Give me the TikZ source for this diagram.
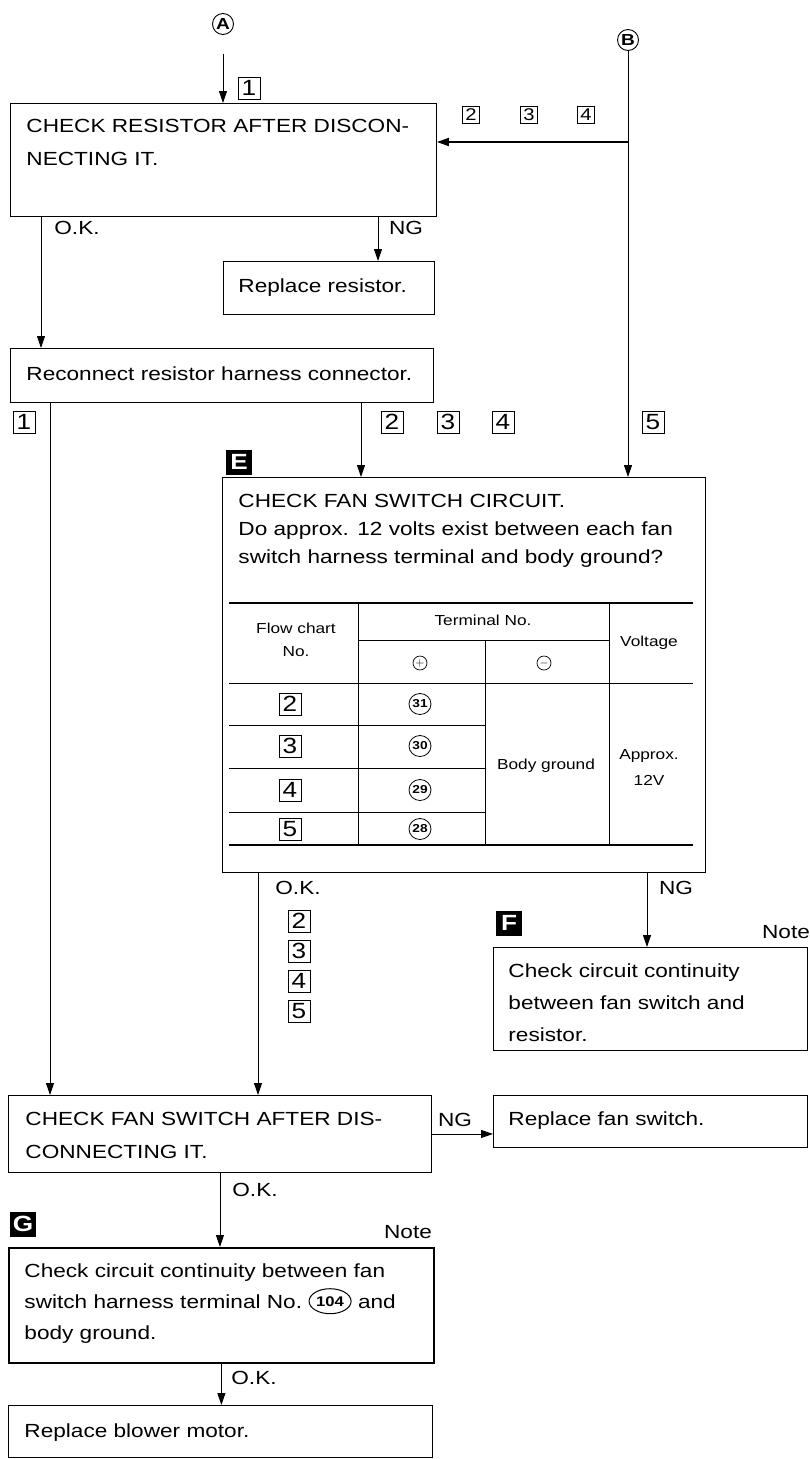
\documentclass[tikz,border=0pt]{standalone}
\usepackage{fontspec}
\setmainfont{Liberation Sans}[FakeStretch=1.19]
\usetikzlibrary{arrows.meta,shapes.geometric,positioning}

\begin{document}
\begin{tikzpicture}[x=1pt,y=-1pt,line width=0.9pt]
\useasboundingbox (0,0) rectangle (809,1459);

\tikzstyle{box}=[draw,rectangle,anchor=north west,inner sep=0pt]
\tikzstyle{txt}=[anchor=base west,inner sep=0pt,font=\fontsize{19}{19}\selectfont]
\tikzstyle{lbl}=[anchor=center,inner sep=0pt,font=\fontsize{19}{19}\selectfont]
\tikzstyle{num}=[draw,rectangle,minimum width=22pt,minimum height=22pt,inner sep=0pt,line width=0.8pt,font=\fontsize{22}{22}\selectfont]
\tikzstyle{smallnum}=[num,minimum width=17pt,minimum height=17pt,font=\fontsize{17}{17}\selectfont]
\tikzstyle{tag}=[fill=black,text=white,minimum width=26pt,minimum height=25pt,inner sep=0pt,font=\bfseries\fontsize{22}{22}\selectfont]
\tikzstyle{conn}=[draw,circle,minimum size=21pt,inner sep=0pt,font=\bfseries\fontsize{16}{16}\selectfont]
\tikzstyle{arr}=[-{Triangle[length=12pt,width=8pt]}]
\tikzstyle{tab}=[anchor=center,inner sep=0pt,font=\fontsize{14.5}{14.5}\selectfont]
\tikzstyle{term}=[draw,ellipse,minimum width=22pt,minimum height=21pt,inner sep=0pt,line width=0.8pt,font=\bfseries\fontsize{11.5}{11.5}\selectfont]

% Entry points
\node[conn] (A) at (223,24) {A};
\node[conn] (B) at (628,40) {B};

% First check: the resistor
\node[box,minimum width=426pt,minimum height=113pt] (chkres) at (10,103) {};
\foreach \ln [count=\i] in {CHECK RESISTOR AFTER DISCON-,NECTING IT.}
  \node[txt] (res\i) at (26,99+33*\i) {\ln};

\node[box,minimum width=211pt,minimum height=53pt] (repres) at (223,261) {};
\node[txt] (represtxt) at (238,292) {Replace resistor.};

\node[box,minimum width=423pt,minimum height=54pt] (recon) at (10,348) {};
\node[txt] (recontxt) at (26,380) {Reconnect resistor harness connector.};

% Fan switch circuit check with its table
\node[box,minimum width=483pt,minimum height=395pt] (fansw) at (222,477) {};
\node[tag] (tagE) at (239,462) {E};
\foreach \ln [count=\i] in {CHECK FAN SWITCH CIRCUIT.,Do approx. 12 volts exist between each fan,switch harness terminal and body ground?}
  \node[txt] (fan\i) at (238,479+28*\i) {\ln};

\draw[line width=2.6pt] (229,603) -- (693,603);
\draw[line width=2.6pt] (229,845) -- (693,845);
\draw (229,683) -- (693,683);
\draw (358,640) -- (609,640);
\foreach \y in {725,768,812}
  \draw (229,\y) -- (485,\y);
\draw (358,603) -- (358,845);
\draw (485,640) -- (485,845);
\draw (609,603) -- (609,845);

\node[tab] (hflow) at (296,628) {Flow chart};
\node[tab] (hno) at (296,652) {No.};
\node[tab] (hterm) at (483,620) {Terminal No.};
\node[draw,circle,minimum size=14pt,inner sep=0pt,line width=0.7pt,font=\fontsize{12}{12}\selectfont] (hplus) at (420,663) {$+$};
\node[draw,circle,minimum size=14pt,inner sep=0pt,line width=0.7pt,font=\fontsize{12}{12}\selectfont] (hminus) at (544,663) {$-$};
\node[tab] (hvolt) at (649,643) {Voltage};
\foreach \n/\t/\y in {2/31/704,3/30/746,4/29/790,5/28/829}{
  \node[num] (fc\n) at (290,\y) {\n};
  \node[term] (tm\t) at (420,\y) {\t};
}
\node[tab] (bgnd) at (546,766) {Body ground};
\node[tab] (appr) at (649,756) {Approx.};
\node[tab] (volt) at (649,780) {12V};

% Continuity between fan switch and resistor
\node[box,minimum width=314pt,minimum height=103pt] (contf) at (493,947) {};
\node[tag] (tagF) at (509,923) {F};
\node[lbl] (notef) at (786,932) {Note};
\foreach \ln [count=\i] in {Check circuit continuity,between fan switch and,resistor.}
  \node[txt] (cf\i) at (508,945+32*\i) {\ln};

% Fan switch itself
\node[box,minimum width=423pt,minimum height=77pt] (chkfs) at (8,1095) {};
\foreach \ln [count=\i] in {CHECK FAN SWITCH AFTER DIS-,CONNECTING IT.}
  \node[txt] (fs\i) at (25,1092+33*\i) {\ln};

\node[box,minimum width=314pt,minimum height=52pt] (repfs) at (493,1095) {};
\node[txt] (repfstxt) at (508,1125) {Replace fan switch.};

% Ground circuit
\node[box,line width=1.8pt,minimum width=425pt,minimum height=115pt] (contg) at (8,1247) {};
\node[tag] (tagG) at (23,1224) {G};
\node[lbl] (noteg) at (408,1232) {Note};
\node[txt] (cg1) at (24,1277) {Check circuit continuity between fan};
\node[txt] (cg2) at (24,1308) {switch harness terminal No.};
\node[draw,ellipse,minimum width=42pt,minimum height=25pt,inner sep=0pt,line width=1pt,font=\bfseries\fontsize{14}{14}\selectfont,right=6pt of cg2] (t104) {104};
\node[txt] (cg2b) at ([xshift=6pt]t104.east |- cg2.base) {and};
\node[txt] (cg3) at (24,1339) {body ground.};

\node[box,minimum width=424pt,minimum height=52pt] (repbm) at (8,1405) {};
\node[txt] (repbmtxt) at (24,1437) {Replace blower motor.};

% Flow chart step numbers
\node[num] (s1a) at (249,88) {1};
\foreach \n/\x in {2/471,3/529,4/586}
  \node[smallnum] (sa\n) at (\x,115) {\n};
\node[num] (s1b) at (24,422) {1};
\foreach \n/\x in {2/392,3/448,4/503}
  \node[num] (sb\n) at (\x,422) {\n};
\node[num] (s5) at (653,422) {5};
\foreach \n/\y in {2/921,3/951,4/981,5/1011}
  \node[num] (sc\n) at (299,\y) {\n};

% Results
\node[lbl] (ok1) at (77,228) {O.K.};
\node[lbl] (ng1) at (406,228) {NG};
\node[lbl] (ok2) at (298,888) {O.K.};
\node[lbl] (ng2) at (676,888) {NG};
\node[lbl] (ng3) at (455,1120) {NG};
\node[lbl] (ok3) at (255,1190) {O.K.};
\node[lbl] (ok4) at (254,1378) {O.K.};

% Connectors
\draw[arr,shorten <=19pt] (A) -- (A |- chkres.north);
\draw[arr] (B) -- (B |- fansw.north);
\coordinate (bj) at (628,142);
\draw[arr,line width=1.8pt] (bj) -- (bj -| chkres.east);
\draw[arr] ([xshift=31pt]chkres.south west) -- ([xshift=31pt]recon.north west);
\draw[arr] ([xshift=368pt]chkres.south west) -- ([xshift=155pt]repres.north west);
\draw[arr] ([xshift=40pt]recon.south west) -- ([xshift=42pt]chkfs.north west);
\draw[arr] ([xshift=351pt]recon.south west) -- ([xshift=139pt]fansw.north west);
\draw[arr] ([xshift=36pt]fansw.south west) -- ([xshift=250pt]chkfs.north west);
\draw[arr] ([xshift=425pt]fansw.south west) -- ([xshift=154pt]contf.north west);
\draw[arr] (chkfs.east) -- (repfs.west |- chkfs.east);
\draw[arr] (chkfs.south) -- (chkfs.south |- contg.north);
\draw[arr] (contg.south) -- (contg.south |- repbm.north);

\end{tikzpicture}
\end{document}
